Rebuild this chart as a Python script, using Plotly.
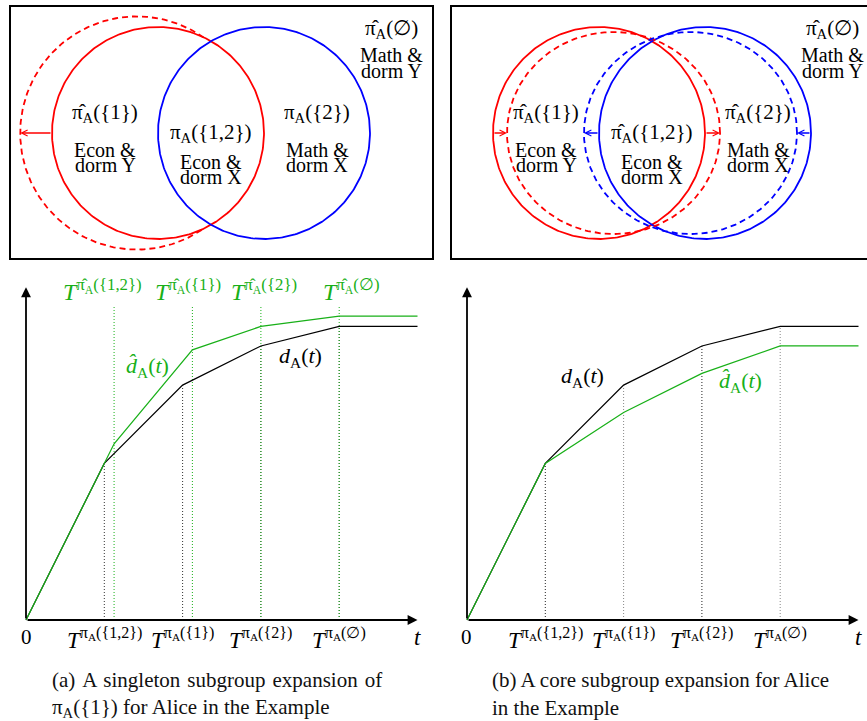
import numpy as np
import plotly.graph_objects as go

W, H = 867, 721
FONT = "'Liberation Serif', 'Times New Roman', 'DejaVu Serif', serif"
GREEN = "#18b018"
RED = "#ff0000"
BLUE = "#0000ff"

# ---------------- data: time profiles ----------------
t_d = [0, 1, 2, 3, 4, 5]                      # kinks of d_A(t)
d_vals = [0, 2.0, 3.0, 3.5, 3.75, 3.75]       # d_A(t), same in (a) and (b)

t_dhat_a = [0, 1, 1.125, 2.125, 3, 4, 5]      # (a) singleton expansion
dhat_a = [0, 2.0, 2.25, 3.45, 3.75, 3.88, 3.88]

t_dhat_b = [0, 1, 2, 3, 4, 5]                 # (b) core expansion
dhat_b = [0, 2.0, 2.65, 3.15, 3.5, 3.5]

T_pi = [1, 2, 3, 4]                           # T^{pi_A(.)} positions
T_pi_tops_a = [2.0, 3.0, 3.5, 3.75]
T_hat_a = [1.125, 2.125, 3, 4]                # T^{pi-hat_A(.)} positions in (a)
T_hat_tops_a = [4.0, 4.0, 4.0, 4.0]
T_pi_tops_b = [2.0, 3.0, 3.5, 3.75]
T_pi_colors_b = ["#222222", "#888888", "#222222", "#888888"]

sets = ["{1,2}", "{1}", "{2}", "∅"]
T_labels = [f"<i>T</i><sup>π<sub>A</sub>({s})</sup>" for s in sets]
T_hat_labels = [f"<i>T</i><sup>π̂<sub>A</sub>({s})</sup>" for s in sets]
T_hat_label_shift = [-12, -4, 3, 12]

# ---------------- data: Venn diagrams ----------------
venn_cx = [0.0, 1.0]          # Econ (red), dorm X (blue); radius 1
venn_colors = [RED, BLUE]
venn_r = 1.0
# (a) expanded Econ set
dash_a_cx, dash_a_r = -0.2, 1.1
dash_a_arc = [55, 305]        # degrees
# (b) shrunk/expanded sets
dash_b_cx = [0.137, 0.863]
dash_b_rx, dash_b_ry = 1.005, 0.953

region_x = [-0.5, 0.5, 1.5, 2.2]
sets_a = ["π̂<sub>A</sub>({1})", "π<sub>A</sub>({1,2})", "π<sub>A</sub>({2})", "π̂<sub>A</sub>(∅)"]
sets_b = ["π̂<sub>A</sub>({1})", "π̂<sub>A</sub>({1,2})", "π̂<sub>A</sub>({2})", "π̂<sub>A</sub>(∅)"]
region_l1 = ["Econ &", "Econ &", "Math &", "Math &"]
region_l2 = ["dorm Y", "dorm X", "dorm X", "dorm Y"]
region_y = [(0.19, -0.16, -0.30), (0.0, -0.27, -0.415), (0.19, -0.16, -0.30), (0.98, 0.736, 0.585)]

# ---------------- layout helpers ----------------
U = 78.3      # px per chart unit
S = 106.0     # px per venn unit


def dom_x(p0, p1):
    return [p0 / W, p1 / W]


def dom_y(p0, p1):
    return [1 - p1 / H, 1 - p0 / H]


fig = go.Figure()

# chart axes
ox_a, ox_b, oy = 26, 467, 620
ax_common = dict(showgrid=False, zeroline=False, showticklabels=False, ticks="", showline=False, fixedrange=True)
fig.update_layout(
    xaxis=dict(domain=dom_x(4, 440), range=[(4 - ox_a) / U, (440 - ox_a) / U], anchor="y", **ax_common),
    yaxis=dict(domain=dom_y(272, 660), range=[(oy - 660) / U, (oy - 272) / U], anchor="x", **ax_common),
    xaxis2=dict(domain=dom_x(446, 867), range=[(446 - ox_b) / U, (867 - ox_b) / U], anchor="y2", **ax_common),
    yaxis2=dict(domain=dom_y(272, 660), range=[(oy - 660) / U, (oy - 272) / U], anchor="x2", **ax_common),
    xaxis3=dict(domain=dom_x(10, 433), range=[(10 - 158) / S, (433 - 158) / S], anchor="y3", **ax_common),
    yaxis3=dict(domain=dom_y(6, 259), range=[-(259 - 133) / S, (133 - 6) / S], anchor="x3", **ax_common),
    xaxis4=dict(domain=dom_x(451, 867), range=[(451 - 599) / S, (867 - 599) / S], anchor="y4", **ax_common),
    yaxis4=dict(domain=dom_y(6, 259), range=[-(259 - 133) / S, (133 - 6) / S], anchor="x4", **ax_common),
)

annotations = []
shapes = []


def add_vline(x, top, color, xa, ya):
    fig.add_trace(go.Scatter(x=[x, x], y=[0, top], mode="lines", xaxis=xa, yaxis=ya,
                             line=dict(color=color, width=1, dash="1px,2px"), hoverinfo="skip"))


def text(x, y, s, xa, ya, size=20, color="black", xshift=0, yshift=0):
    annotations.append(dict(x=x, y=y, xref=xa, yref=ya, text=s, showarrow=False,
                            font=dict(family=FONT, size=size, color=color),
                            xanchor="center", yanchor="middle", xshift=xshift, yshift=yshift))


def arrow(x, y, axv, ayv, xa, ya, color, width, head, size):
    annotations.append(dict(x=x, y=y, ax=axv, ay=ayv, xref=xa, yref=ya, axref=xa, ayref=ya,
                            text="", showarrow=True, arrowhead=head, arrowsize=size,
                            arrowwidth=width, arrowcolor=color, standoff=0, startstandoff=0))


# ---------------- panel (a) chart ----------------
for x, top in zip(T_pi, T_pi_tops_a):
    add_vline(x, top, "#333333", "x", "y")
for x, top in zip(T_hat_a, T_hat_tops_a):
    add_vline(x, top, GREEN, "x", "y")
fig.add_trace(go.Scatter(x=t_d, y=d_vals, mode="lines", line=dict(color="black", width=1.2), xaxis="x", yaxis="y"))
fig.add_trace(go.Scatter(x=t_dhat_a, y=dhat_a, mode="lines", line=dict(color=GREEN, width=1.2), xaxis="x", yaxis="y"))

# ---------------- panel (b) chart ----------------
for x, top, c in zip(T_pi, T_pi_tops_b, T_pi_colors_b):
    add_vline(x, top, c, "x2", "y2")
fig.add_trace(go.Scatter(x=t_d, y=d_vals, mode="lines", line=dict(color="black", width=1.2), xaxis="x2", yaxis="y2"))
fig.add_trace(go.Scatter(x=t_dhat_b, y=dhat_b, mode="lines", line=dict(color=GREEN, width=1.2), xaxis="x2", yaxis="y2"))

# axes arrows, axis labels
for xa, ya in (("x", "y"), ("x2", "y2")):
    arrow(0, 4.25, 0, 0, xa, ya, "black", 1.8, 2, 1.1)
    arrow(5.0, 0, 0, 0, xa, ya, "black", 1.8, 2, 1.1)
    text(0, 0, "0", xa, ya, size=21, yshift=-17)
    text(5.0, 0, "<i>t</i>", xa, ya, size=23, yshift=-17)
    for x, lab in zip(T_pi, T_labels):
        text(x, 0, lab, xa, ya, size=23, yshift=-18)

for x, lab, sh in zip(T_hat_a, T_hat_labels, T_hat_label_shift):
    text(x, 4.21, lab, "x", "y", size=24, color=GREEN, xshift=sh)
text(1.5, 3.23, "<i>d̂</i><sub>A</sub>(<i>t</i>)", "x", "y", size=22, color=GREEN, xshift=4)
text(3.5, 3.36, "<i>d</i><sub>A</sub>(<i>t</i>)", "x", "y", size=22, color="black", xshift=0)
text(1.5, 3.1, "<i>d</i><sub>A</sub>(<i>t</i>)", "x2", "y2", size=22, color="black", xshift=-2)
text(3.5, 3.04, "<i>d̂</i><sub>A</sub>(<i>t</i>)", "x2", "y2", size=22, color=GREEN, xshift=-1)

# ---------------- Venn (a) ----------------
th = np.linspace(0, 2 * np.pi, 361)
for cx, col in zip(venn_cx, venn_colors):
    fig.add_trace(go.Scatter(x=cx + venn_r * np.cos(th), y=venn_r * np.sin(th), mode="lines",
                             line=dict(color=col, width=1.8), xaxis="x3", yaxis="y3", hoverinfo="skip"))
arc = np.radians(np.linspace(dash_a_arc[0], dash_a_arc[1], 200))
fig.add_trace(go.Scatter(x=dash_a_cx + dash_a_r * np.cos(arc), y=dash_a_r * np.sin(arc), mode="lines",
                         line=dict(color=RED, width=1.8, dash="6px,4px"), xaxis="x3", yaxis="y3", hoverinfo="skip"))
arrow(dash_a_cx - dash_a_r, 0, venn_cx[0] - venn_r, 0, "x3", "y3", RED, 1.5, 5, 0.8)

# ---------------- Venn (b) ----------------
for cx, col in zip(venn_cx, venn_colors):
    fig.add_trace(go.Scatter(x=cx + venn_r * np.cos(th), y=venn_r * np.sin(th), mode="lines",
                             line=dict(color=col, width=1.8), xaxis="x4", yaxis="y4", hoverinfo="skip"))
for cx, col in zip(dash_b_cx, venn_colors):
    fig.add_trace(go.Scatter(x=cx + dash_b_rx * np.cos(th), y=dash_b_ry * np.sin(th), mode="lines",
                             line=dict(color=col, width=1.8, dash="6px,4px"), xaxis="x4", yaxis="y4", hoverinfo="skip"))
# arrows from solid to dashed boundary
arrow(dash_b_cx[0] - dash_b_rx, 0, venn_cx[0] - venn_r, 0, "x4", "y4", RED, 1.5, 5, 0.8)
arrow(dash_b_cx[0] + dash_b_rx, 0, venn_cx[0] + venn_r, 0, "x4", "y4", RED, 1.5, 5, 0.8)
arrow(dash_b_cx[1] - dash_b_rx, 0, venn_cx[1] - venn_r, 0, "x4", "y4", BLUE, 1.5, 5, 0.8)
arrow(dash_b_cx[1] + dash_b_rx, 0, venn_cx[1] + venn_r, 0, "x4", "y4", BLUE, 1.5, 5, 0.8)

for xa, ya, labs in (("x3", "y3", sets_a), ("x4", "y4", sets_b)):
    for rx, (y0, y1, y2), lab, l1, l2 in zip(region_x, region_y, labs, region_l1, region_l2):
        text(rx, y0, lab, xa, ya, size=21)
        text(rx, y1, l1, xa, ya, size=20)
        text(rx, y2, l2, xa, ya, size=20)

# boxes
shapes.append(dict(type="rect", xref="paper", yref="paper", x0=10 / W, x1=433 / W,
                   y0=1 - 259 / H, y1=1 - 6 / H, line=dict(color="black", width=2)))
shapes.append(dict(type="rect", xref="paper", yref="paper", x0=451 / W, x1=1.01,
                   y0=1 - 259 / H, y1=1 - 6 / H, line=dict(color="black", width=2)))

# captions
gap = " \u200a"
captions = [
    (50, 680, gap.join(["(a)", "A", "singleton", "subgroup", "expansion", "of"])),
    (50, 708, "π<sub>A</sub>({1}) for Alice in the Example"),
    (490, 680, "(b) A core subgroup expansion for Alice"),
    (490, 708, "in the Example"),
]
for px, py, s in captions:
    annotations.append(dict(x=px / W, y=1 - py / H, xref="paper", yref="paper", text=s, showarrow=False,
                            xanchor="left", yanchor="middle",
                            font=dict(family=FONT, size=21, color="#111111")))

fig.update_layout(width=W, height=H, margin=dict(l=0, r=0, t=0, b=0),
                  paper_bgcolor="white", plot_bgcolor="rgba(0,0,0,0)", showlegend=False,
                  annotations=annotations, shapes=shapes)
fig.write_html("out.html")
